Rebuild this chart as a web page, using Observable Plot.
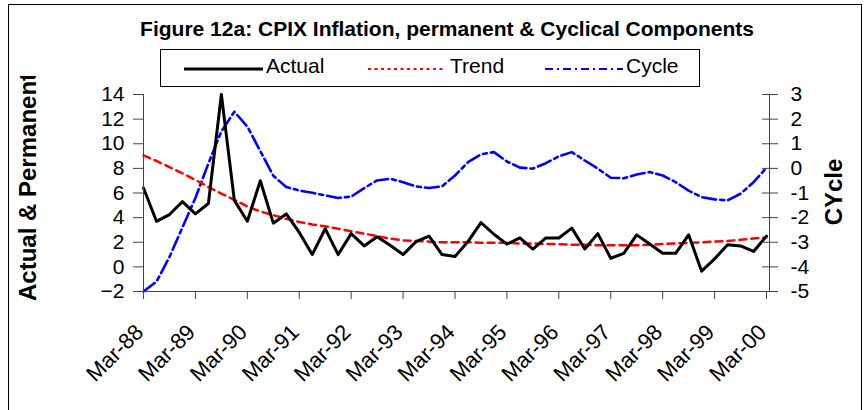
<!DOCTYPE html>
<html>
<head>
<meta charset="utf-8">
<script src="https://cdn.jsdelivr.net/npm/d3@7"></script>
<script src="https://cdn.jsdelivr.net/npm/@observablehq/plot@0.6"></script>
<style>
  html, body { margin: 0; padding: 0; background: #fff; }
  #wrap { position: relative; width: 868px; height: 410px; overflow: hidden; font-family: "Liberation Sans", Arial, sans-serif; }
  #wrap > svg { position: absolute; left: 0; top: 0; }
  #overlay { pointer-events: none; }
</style>
</head>
<body>
<div id="wrap"></div>
<script>
// Quarterly observations, Mar-88 .. Mar-00 (49 quarters)
const tickLabels = ["Mar-88","Mar-89","Mar-90","Mar-91","Mar-92","Mar-93","Mar-94","Mar-95","Mar-96","Mar-97","Mar-98","Mar-99","Mar-00"];
const actual = [6.4, 3.7, 4.25, 5.3, 4.3, 5.15, 14.0, 5.4, 3.7, 7.0, 3.55, 4.3, 2.8, 1.0, 3.1, 1.0, 2.7, 1.7, 2.45, 1.75, 1.0, 2.05, 2.5, 1.0, 0.85, 2.05, 3.6, 2.65, 1.85, 2.35, 1.45, 2.35, 2.35, 3.15, 1.45, 2.7, 0.7, 1.1, 2.6, 1.85, 1.1, 1.1, 2.6, -0.35, 0.65, 1.8, 1.7, 1.25, 2.5];
const trend = [9.05, 8.6, 8.1, 7.6, 7.05, 6.5, 5.95, 5.45, 4.9, 4.5, 4.2, 3.9, 3.65, 3.45, 3.3, 3.1, 2.9, 2.7, 2.5, 2.3, 2.15, 2.1, 2.05, 2.0, 2.0, 2.0, 1.95, 1.95, 1.95, 1.9, 1.9, 1.85, 1.85, 1.8, 1.8, 1.75, 1.75, 1.75, 1.75, 1.8, 1.85, 1.9, 1.95, 2.0, 2.05, 2.1, 2.2, 2.3, 2.4];
const cycle = [-5.0, -4.6, -3.6, -2.4, -1.2, 0.2, 1.5, 2.3, 1.7, 0.7, -0.3, -0.76, -0.9, -0.99, -1.1, -1.2, -1.15, -0.8, -0.49, -0.42, -0.56, -0.73, -0.8, -0.73, -0.29, 0.25, 0.57, 0.66, 0.28, 0.03, -0.01, 0.21, 0.49, 0.66, 0.32, -0.01, -0.38, -0.4, -0.25, -0.15, -0.29, -0.56, -0.9, -1.17, -1.26, -1.3, -1.03, -0.56, 0.03];
const leftTicks = [-2, 0, 2, 4, 6, 8, 10, 12, 14];
const rightTicks = [-5, -4, -3, -2, -1, 0, 1, 2, 3];

// Cycle plotted against right axis: map [-5,3] onto left [-2,14]
const toLeft = c => 2 * c + 8;
const fromLeft = v => (v - 8) / 2;

const rows = (arr) => arr.map((v, i) => ({q: i, v}));
const aRows = rows(actual), tRows = rows(trend), cRows = rows(cycle);
const xTicks = tickLabels.map((_, i) => ({q: i * 4, label: tickLabels[i]}));

const FONT = "Liberation Sans, Arial, sans-serif";

const chart = Plot.plot({
  width: 868,
  height: 410,
  marginLeft: 143,
  marginRight: 99,
  marginTop: 94,
  marginBottom: 119,
  style: {fontFamily: FONT, fontSize: "21px", color: "#000", background: "transparent", overflow: "visible"},
  x: {domain: [0, 48.23], axis: null},
  y: {domain: [-2, 14], axis: null},
  marks: [
    Plot.line(cRows, {x: "q", y: d => toLeft(d.v), stroke: "#0000ff", strokeWidth: 2.6, strokeDasharray: "14,4,4,4"}),
    Plot.line(tRows, {x: "q", y: "v", stroke: "#ff0000", strokeWidth: 2.5, strokeDasharray: "7,5"}),
    Plot.line(aRows, {x: "q", y: "v", stroke: "#000", strokeWidth: 3}),
    Plot.axisY({anchor: "left", ticks: leftTicks, tickSize: 10, tickPadding: 9, label: null, stroke: "#444", fontSize: 21}),
    Plot.axisY({anchor: "right", ticks: rightTicks.map(toLeft), tickFormat: d => String(fromLeft(d)), tickSize: 8, tickPadding: 13, label: null, stroke: "#444", fontSize: 21}),
    Plot.axisY({anchor: "right", ticks: rightTicks.map(toLeft), tickFormat: () => "", tickSize: 8, dx: -8, label: null, stroke: "#444"}),
    Plot.axisX({anchor: "bottom", ticks: xTicks.map(d => d.q), tickFormat: () => "", tickSize: 8, label: null, stroke: "#444"}),
    Plot.text(xTicks, {x: "q", frameAnchor: "bottom", text: "label", rotate: -45, textAnchor: "end", lineAnchor: "top", dx: -10, dy: 31, fontSize: 22, fill: "#000"}),
    Plot.ruleX([0], {stroke: "#444", strokeWidth: 1}),
    Plot.ruleX([48.23], {stroke: "#444", strokeWidth: 1}),
    Plot.ruleY([-2], {stroke: "#444", strokeWidth: 1})
  ]
});
document.getElementById("wrap").appendChild(chart);

// Overlay: frame, title, legend, axis titles
const ns = "http://www.w3.org/2000/svg";
const ov = document.createElementNS(ns, "svg");
ov.setAttribute("id", "overlay");
ov.setAttribute("width", 868);
ov.setAttribute("height", 410);
ov.innerHTML = `
  <defs><clipPath id="lclip"><rect x="0" y="76" width="120" height="334"/></clipPath></defs>
  <rect x="8.5" y="4.5" width="853" height="430" fill="none" stroke="#000" stroke-width="1"/>
  <text x="447" y="36" text-anchor="middle" font-family="${FONT}" font-weight="bold" font-size="21">Figure 12a: CPIX Inflation, permanent &amp; Cyclical Components</text>
  <rect x="160.5" y="49.5" width="539" height="37" fill="#fff" stroke="#000" stroke-width="1"/>
  <line x1="184" x2="263" y1="69" y2="69" stroke="#000" stroke-width="3"/>
  <text x="266" y="73" font-family="${FONT}" font-size="21">Actual</text>
  <line x1="368" x2="443" y1="69" y2="69" stroke="#ff0000" stroke-width="2" stroke-dasharray="3,3.5"/>
  <text x="450" y="73" font-family="${FONT}" font-size="21">Trend</text>
  <line x1="545" x2="623" y1="69" y2="69" stroke="#0000ff" stroke-width="2" stroke-dasharray="8,4,2,4"/>
  <text x="626" y="73" font-family="${FONT}" font-size="21">Cycle</text>
  <g clip-path="url(#lclip)">
    <text transform="translate(36,301) rotate(-90)" text-anchor="start" font-family="${FONT}" font-weight="bold" font-size="24">Actual &amp; Permanent</text>
  </g>
  <text transform="translate(842,192) rotate(-90)" text-anchor="middle" font-family="${FONT}" font-weight="bold" font-size="24">CYcle</text>
`;
document.getElementById("wrap").appendChild(ov);
</script>
</body>
</html>
